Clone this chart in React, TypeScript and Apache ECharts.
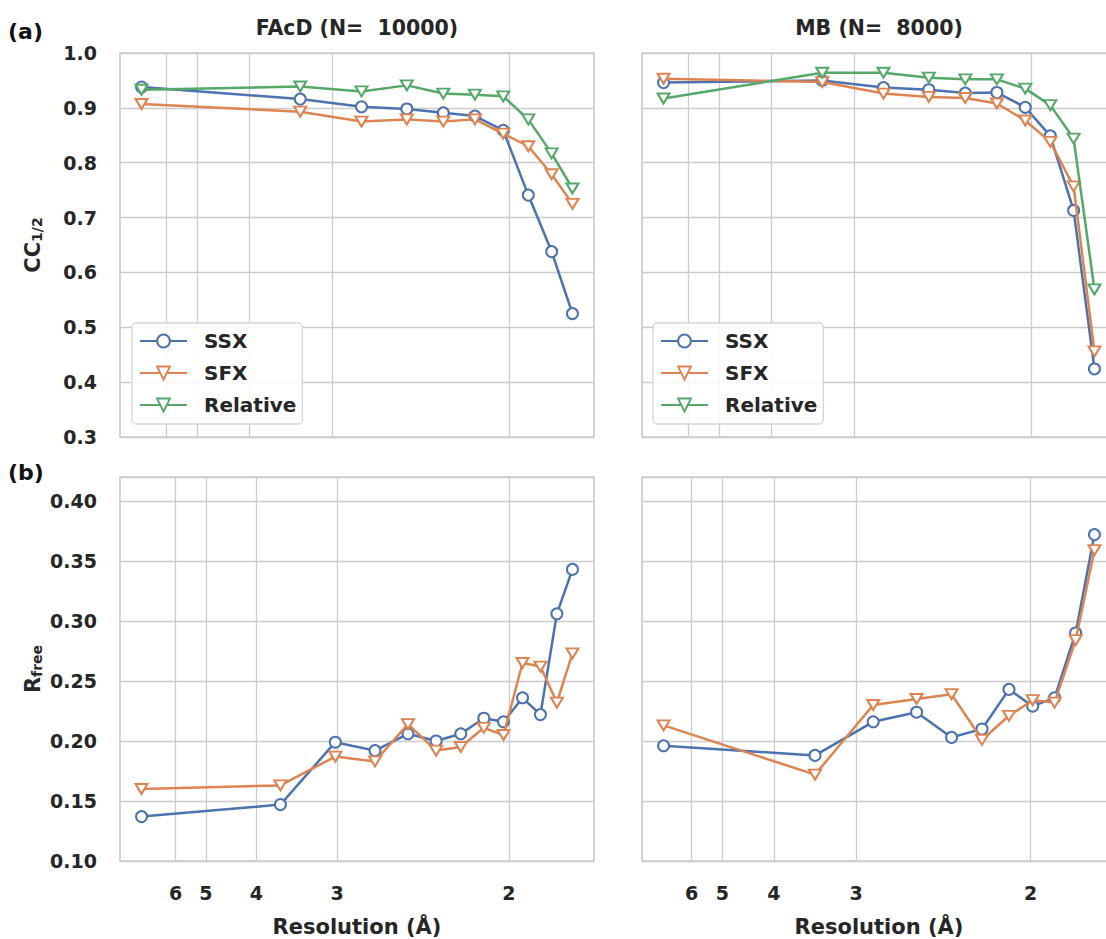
import React, { useEffect, useRef } from 'react';
import * as echarts from 'echarts';

// Resolution (Å) of each shell
const resolutionCC = [6.826, 3.342, 2.792, 2.489, 2.289, 2.14, 2.022, 1.928, 1.848, 1.782];
const resolutionRfreeFAcD = [7.337, 3.652, 3.047, 2.721, 2.499, 2.336, 2.21, 2.104, 2.021, 1.947, 1.882, 1.826, 1.776];
const resolutionRfreeMB = [7.009, 3.447, 2.884, 2.571, 2.364, 2.209, 2.088, 1.992, 1.911, 1.839, 1.779];

// CC1/2
const ccFAcD_SSX = [0.938, 0.916, 0.902, 0.898, 0.891, 0.885, 0.859, 0.741, 0.638, 0.525];
const ccFAcD_SFX = [0.907, 0.893, 0.875, 0.879, 0.875, 0.879, 0.853, 0.83, 0.779, 0.725];
const ccFAcD_Relative = [0.933, 0.939, 0.93, 0.941, 0.926, 0.924, 0.921, 0.879, 0.817, 0.753];
const ccMB_SSX = [0.946, 0.95, 0.937, 0.933, 0.927, 0.928, 0.901, 0.849, 0.713, 0.424];
const ccMB_SFX = [0.953, 0.947, 0.926, 0.92, 0.918, 0.908, 0.877, 0.838, 0.757, 0.456];
const ccMB_Relative = [0.917, 0.964, 0.964, 0.955, 0.952, 0.952, 0.935, 0.905, 0.844, 0.569];

// Rfree
const rfreeFAcD_SSX = [0.137, 0.147, 0.199, 0.192, 0.206, 0.2, 0.206, 0.219, 0.216, 0.236, 0.222, 0.306, 0.343];
const rfreeFAcD_SFX = [0.16, 0.163, 0.187, 0.183, 0.214, 0.192, 0.195, 0.211, 0.205, 0.265, 0.262, 0.232, 0.273];
const rfreeMB_SSX = [0.196, 0.188, 0.216, 0.224, 0.203, 0.21, 0.243, 0.229, 0.236, 0.29, 0.372];
const rfreeMB_SFX = [0.213, 0.172, 0.23, 0.235, 0.239, 0.201, 0.221, 0.234, 0.232, 0.284, 0.359];

// Resolution tick labels (Å)
const resolutionTicks = [6, 5, 4, 3, 2];
const legendNames = ['SSX', 'SFX', 'Relative'];
const panelTitles = ['FAcD (N=  10000)', 'MB (N=  8000)'];

const COLORS: Record<string, string> = { SSX: '#4c72b0', SFX: '#dd8452', Relative: '#55a868' };
const FONT = 'DejaVu Sans';
const TEXT = '#262626';
const GRIDC = '#cccccc';

const grids = [
  { left: 120, top: 53, width: 474, height: 384 },
  { left: 642, top: 53, width: 474, height: 384 },
  { left: 120, top: 477, width: 474, height: 384 },
  { left: 642, top: 477, width: 474, height: 384 },
];

function xExtent(res: number[]) {
  const s = res.map((d) => 1 / d);
  const lo = Math.min(...s);
  const hi = Math.max(...s);
  const m = (hi - lo) * 0.05;
  return [lo - m, hi + m];
}

const panels = [
  { res: resolutionCC, lines: [['SSX', ccFAcD_SSX], ['SFX', ccFAcD_SFX], ['Relative', ccFAcD_Relative]], bottom: false },
  { res: resolutionCC, lines: [['SSX', ccMB_SSX], ['SFX', ccMB_SFX], ['Relative', ccMB_Relative]], bottom: false },
  { res: resolutionRfreeFAcD, lines: [['SSX', rfreeFAcD_SSX], ['SFX', rfreeFAcD_SFX]], bottom: true },
  { res: resolutionRfreeMB, lines: [['SSX', rfreeMB_SSX], ['SFX', rfreeMB_SFX]], bottom: true },
];

const tickFont = { fontFamily: FONT, fontWeight: 'bold' as const, fontSize: 19, color: TEXT };

function buildOption() {
  const series: any[] = [];
  panels.forEach((p, gi) => {
    p.lines.forEach(([name, vals]: any, li) => {
      const isCircle = name === 'SSX';
      const s: any = {
        type: 'line',
        name,
        xAxisIndex: gi,
        yAxisIndex: gi,
        data: (vals as number[]).map((v, i) => [1 / p.res[i], v]),
        symbol: isCircle ? 'emptyCircle' : 'emptyTriangle',
        symbolSize: isCircle ? 11 : [12, 10],
        symbolRotate: isCircle ? 0 : 180,
        showSymbol: true,
        clip: false,
        lineStyle: { color: COLORS[name], width: 2.5 },
        itemStyle: { color: COLORS[name], borderWidth: 2 },
        emphasis: { disabled: true },
        z: 2 + li,
      };
      if (li === 0) {
        s.markLine = {
          silent: true,
          z: 1,
          symbol: ['none', 'none'],
          animation: false,
          lineStyle: { color: GRIDC, width: 1.3, type: 'solid' },
          label: {
            show: p.bottom,
            position: 'start',
            distance: 22,
            formatter: (d: any) => String(Math.round(1 / d.value)),
            ...tickFont,
          },
          emphasis: { disabled: true },
          data: resolutionTicks.map((t) => ({ xAxis: 1 / t })),
        };
      }
      series.push(s);
    });
  });

  const xAxis = panels.map((p, gi) => {
    const [min, max] = xExtent(p.res);
    return {
      type: 'value',
      gridIndex: gi,
      min,
      max,
      axisLabel: { show: false },
      axisTick: { show: false },
      axisLine: { show: false },
      splitLine: { show: false },
      name: p.bottom ? 'Resolution (Å)' : '',
      nameLocation: 'middle',
      nameGap: 55,
      nameTextStyle: { fontFamily: FONT, fontWeight: 'bold', fontSize: 21, color: TEXT },
    };
  });

  const yAxis = panels.map((p, gi) => {
    const left = gi % 2 === 0;
    const top = gi < 2;
    return {
      type: 'value',
      gridIndex: gi,
      min: top ? 0.3 : 0.1,
      max: top ? 1.0 : 0.42,
      interval: top ? 0.1 : 0.05,
      axisLine: { show: false },
      axisTick: { show: false },
      splitLine: { lineStyle: { color: GRIDC, width: 1.3 } },
      axisLabel: {
        show: left,
        margin: 23,
        ...tickFont,
        formatter: (v: number) => {
          if (top) return v.toFixed(1);
          if (Math.abs(v * 20 - Math.round(v * 20)) > 1e-6) return '';
          return v.toFixed(2);
        },
      },
      name: left ? (top ? '{m|CC}{s|1/2}' : '{m|R}{s|free}') : '',
      nameLocation: 'middle',
      nameRotate: 90,
      nameGap: 76,
      nameTextStyle: {
        rich: {
          m: { fontFamily: FONT, fontWeight: 'bold', fontSize: 21, color: TEXT, verticalAlign: 'top', lineHeight: 22 },
          s: { fontFamily: FONT, fontWeight: 'bold', fontSize: 14, color: TEXT, verticalAlign: 'bottom', lineHeight: 14, padding: [12, 0, 0, 0] },
        },
      },
    };
  });

  const legend = [0, 1].map((i) => ({
    left: i === 0 ? 132 : 653,
    top: 323,
    orient: 'vertical',
    data: legendNames,
    itemWidth: 47,
    itemHeight: 16,
    itemGap: 12,
    padding: [8, 6, 9, 7],
    backgroundColor: 'rgba(255,255,255,0.85)',
    borderColor: '#d6d6d6',
    borderWidth: 1.3,
    borderRadius: 4,
    selectedMode: false,
    formatter: (n: string) => `{g|}{t|${n}}`,
    textStyle: {
      rich: {
        g: { width: 12 },
        t: { fontFamily: FONT, fontWeight: 'bold', fontSize: 20, color: TEXT, lineHeight: 20 },
      },
    },
  }));

  const title = [
    { text: '(a)', left: 8, top: 20, padding: 0, textStyle: { fontFamily: FONT, fontWeight: 'bold', fontSize: 22, color: '#111' } },
    { text: '(b)', left: 8, top: 461, padding: 0, textStyle: { fontFamily: FONT, fontWeight: 'bold', fontSize: 22, color: '#111' } },
    ...panelTitles.map((t, i) => ({
      text: t,
      left: i === 0 ? 357 : 879,
      textAlign: 'center',
      top: 17,
      padding: 0,
      textStyle: { fontFamily: FONT, fontWeight: 'bold', fontSize: 20.5, color: TEXT },
    })),
  ];

  return {
    animation: false,
    backgroundColor: '#ffffff',
    title,
    legend,
    grid: grids.map((g) => ({
      ...g,
      show: true,
      outerBoundsMode: 'none',
      containLabel: false,
      borderColor: GRIDC,
      borderWidth: 1.7,
      backgroundColor: '#ffffff',
    })),
    xAxis,
    yAxis,
    series,
  };
}

export default function App() {
  const ref = useRef<HTMLDivElement>(null);
  useEffect(() => {
    document.body.style.overflow = 'hidden';
    const chart = echarts.init(ref.current as HTMLDivElement, null, { renderer: 'svg' });
    chart.setOption(buildOption() as any);
    return () => chart.dispose();
  }, []);
  return <div ref={ref} style={{ position: 'fixed', left: 0, top: 0, width: 1106, height: 939 }} />;
}
